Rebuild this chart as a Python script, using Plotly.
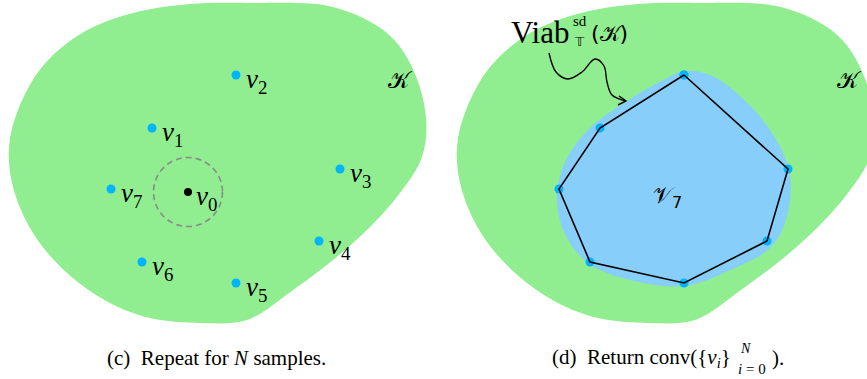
import plotly.graph_objects as go

W, H = 867, 379
PANEL_SHIFT = 448

# Region K outline (left panel, pixel coords)
k_x = [250, 333, 387, 412, 426, 422, 400, 370, 333, 293, 247, 200, 150, 110, 67, 33, 13, 9, 18, 42, 82, 133, 190]
k_y = [3, 7, 33, 67, 117, 157, 193, 227, 260, 290, 320, 323, 318, 303, 273, 233, 187, 147, 110, 67, 33, 13, 4]

# Samples
v_names = ["0", "1", "2", "3", "4", "5", "6", "7"]
v_x = [188, 152, 236, 340, 319, 236, 142, 111]
v_y = [192, 128, 75, 169, 241, 283, 262, 189]

# Hull order (indices into samples)
hull_order = [2, 3, 4, 5, 6, 7, 1, 2]

# Viability kernel outline (right panel)
vb_x = [684, 710, 740, 770, 789, 788, 772, 726, 684, 630, 588, 564, 557, 565, 590, 632, 665]
vb_y = [71, 75, 96, 130, 170, 212, 246, 272, 286, 280, 263, 232, 195, 162, 128, 98, 79]

# Squiggle arrow
arr_x = [549, 556, 568, 582, 595, 604, 607, 612, 626]
arr_y = [53, 72, 79, 72, 59, 66, 82, 95, 101]
head_x = [619, 626, 618]
head_y = [96, 101, 105]

GREEN = "#90EE90"
LBLUE = "#87CEFA"
DOT = "#00B4FF"
SERIF = "Liberation Serif"

fig = go.Figure()

for off in (0, PANEL_SHIFT):
    xs = [x + off for x in k_x] + [k_x[0] + off]
    ys = k_y + [k_y[0]]
    fig.add_trace(go.Scatter(x=xs, y=ys, mode="lines", fill="toself", fillcolor=GREEN,
                             line=dict(color=GREEN, width=0, shape="spline", smoothing=1.0),
                             hoverinfo="skip", showlegend=False))

# Viability blob
fig.add_trace(go.Scatter(x=vb_x + [vb_x[0]], y=vb_y + [vb_y[0]], mode="lines", fill="toself",
                         fillcolor=LBLUE, line=dict(color=LBLUE, width=0, shape="spline", smoothing=1.0),
                         hoverinfo="skip", showlegend=False))

# Dashed circle around v0
fig.add_shape(type="circle", xref="x", yref="y", x0=v_x[0] - 34.5, x1=v_x[0] + 34.5,
              y0=v_y[0] - 34.5, y1=v_y[0] + 34.5, line=dict(color="#8a8a8a", width=1.6, dash="6px,4px"))

# Left samples
fig.add_trace(go.Scatter(x=v_x[1:], y=v_y[1:], mode="markers", marker=dict(color=DOT, size=9),
                         hoverinfo="skip", showlegend=False))
fig.add_trace(go.Scatter(x=v_x[:1], y=v_y[:1], mode="markers", marker=dict(color="black", size=8),
                         hoverinfo="skip", showlegend=False))

# Right hull
hx = [v_x[i] + PANEL_SHIFT for i in hull_order]
hy = [v_y[i] for i in hull_order]
fig.add_trace(go.Scatter(x=hx, y=hy, mode="markers", marker=dict(color=DOT, size=9),
                         hoverinfo="skip", showlegend=False))
fig.add_trace(go.Scatter(x=hx, y=hy, mode="lines", line=dict(color="black", width=1.6),
                         hoverinfo="skip", showlegend=False))

# Arrow
fig.add_trace(go.Scatter(x=arr_x, y=arr_y, mode="lines", line=dict(color="black", width=1.4, shape="spline"),
                         hoverinfo="skip", showlegend=False))
fig.add_trace(go.Scatter(x=head_x, y=head_y, mode="lines", line=dict(color="black", width=1.4),
                         hoverinfo="skip", showlegend=False))

ann = []
for n, x, y in zip(v_names, v_x, v_y):
    dx = 6 if n == "0" else 8
    ann.append(dict(x=x + dx, y=y + 6, text=f"<i>v</i><sub>{n}</sub>", xanchor="left", yanchor="middle",
                    showarrow=False, font=dict(family=SERIF, size=27, color="black")))

for off in (0, PANEL_SHIFT + 1):
    ann.append(dict(x=400 + off, y=80, text="𝒦", xanchor="center", yanchor="middle", showarrow=False,
                    font=dict(family="DejaVu Sans", size=23, color="black")))

ann.append(dict(x=667, y=197, text="𝒱<sub>7</sub>", xanchor="center", yanchor="middle", showarrow=False,
                font=dict(family="DejaVu Sans", size=23, color="black")))

ann.append(dict(x=571, y=32, text="Viab", xanchor="right", yanchor="middle", showarrow=False,
                font=dict(family=SERIF, size=31, color="black")))
ann.append(dict(x=580, y=21, text="sd", xanchor="center", yanchor="middle", showarrow=False,
                font=dict(family=SERIF, size=15, color="black")))
ann.append(dict(x=579, y=41, text="𝕋", xanchor="center", yanchor="middle", showarrow=False,
                font=dict(family="DejaVu Sans", size=13, color="black")))
ann.append(dict(x=589, y=33, text="(𝒦)", xanchor="left", yanchor="middle", showarrow=False,
                font=dict(family="DejaVu Sans", size=22, color="black")))

ann.append(dict(x=216, y=358, text="(c)  Repeat for <i>N</i> samples.", xanchor="center", yanchor="middle",
                showarrow=False, font=dict(family=SERIF, size=21, color="black")))
XA = 733
ann.append(dict(x=XA, y=358, text="(d)  Return conv({<i>v<sub>i</sub></i>}", xanchor="right", yanchor="middle",
                showarrow=False, font=dict(family=SERIF, size=21, color="black")))
ann.append(dict(x=XA + 5, y=348, text="<i>N</i>", xanchor="left", yanchor="middle",
                showarrow=False, font=dict(family=SERIF, size=14, color="black")))
ann.append(dict(x=XA + 3, y=369, text="<i>i</i> = 0", xanchor="left", yanchor="middle",
                showarrow=False, font=dict(family=SERIF, size=15, color="black")))
ann.append(dict(x=XA + 37, y=358, text=").", xanchor="left", yanchor="middle",
                showarrow=False, font=dict(family=SERIF, size=21, color="black")))

fig.update_layout(
    width=W, height=H, margin=dict(l=0, r=0, t=0, b=0),
    paper_bgcolor="white", plot_bgcolor="white",
    xaxis=dict(range=[0, W], visible=False, fixedrange=True),
    yaxis=dict(range=[H, 0], visible=False, fixedrange=True),
    annotations=ann, showlegend=False,
)

fig.write_html("out.html", config={"displayModeBar": False},
               post_script="document.body.style.margin='0';document.body.style.overflow='hidden';")
